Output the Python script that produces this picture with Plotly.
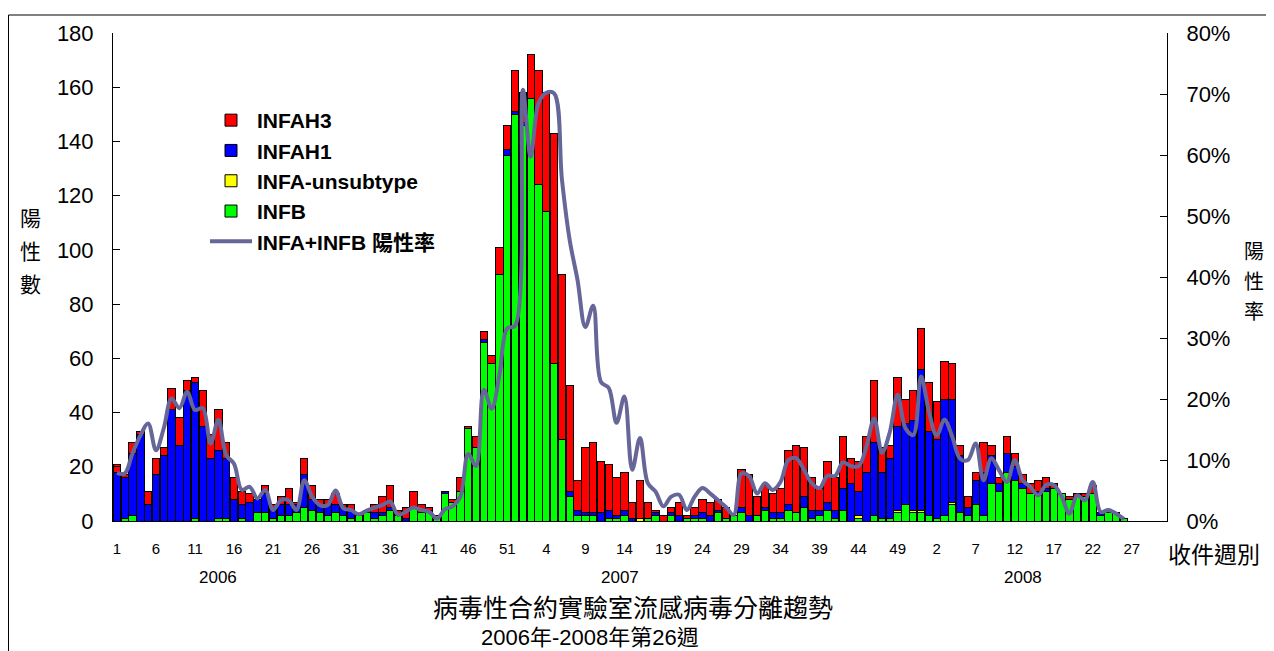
import plotly.graph_objects as go

# ---------------- data ----------------
# axis categories: 2006 wk1-52, 2007 wk1-52, 2008 wk1-31 (data through 2008 wk26)
axis_weeks = list(range(1, 53)) + list(range(1, 53)) + list(range(1, 32))
year_labels = ["2006", "2007", "2008"]
year_label_pos = [13, 64.5, 116]

infah3 = [3, 1, 4, 1, 5, 6, 3, 8, 10, 4, 2, 13, 9, 15, 6, 8, 5, 3, 0, 3,
          2, 3, 6, 1, 6, 5, 2, 2, 4, 1, 2, 0, 1, 3, 6, 8, 2, 4, 6, 3,
          1, 0, 0, 1, 5, 1, 4, 3, 3, 10, 9, 15,
          11, 16, 42, 44, 85, 61, 39, 11, 24, 26, 19, 17, 14, 14, 6, 14, 6, 1, 2, 2,
          5, 1, 3, 5, 5, 4, 4, 0, 14, 15, 7, 8, 7, 9, 20, 25, 18, 12, 8, 15,
          12, 19, 9, 11, 13, 23, 9, 5, 18, 9, 11, 15,
          18, 14, 14, 13, 4, 4, 3, 11, 4, 2, 6, 5, 3, 4, 4, 4, 2, 0, 1, 1,
          1, 3, 0, 0, 0, 0]
infah1 = [18, 15, 23, 32, 6, 17, 24, 41, 28, 48, 50, 35, 23, 25, 22, 8, 5, 7, 5, 7,
          3, 4, 4, 3, 12, 4, 3, 4, 3, 3, 3, 0, 0, 2, 1, 1, 0, 1, 0, 0,
          0, 0, 1, 0, 0, 0, 0, 1, 0, 0, 2, 1,
          1, 0, 0, 0, 0, 0, 2, 2, 1, 1, 3, 3, 1, 2, 1, 0, 0, 1, 0, 1,
          2, 0, 1, 2, 2, 1, 0, 0, 2, 2, 0, 1, 2, 2, 2, 0, 4, 3, 2, 3,
          3, 8, 14, 9, 18, 27, 17, 22, 31, 30, 33, 52,
          31, 29, 43, 38, 21, 3, 9, 16, 10, 3, 7, 5, 2, 0, 1, 1, 0, 0, 0, 0,
          0, 0, 1, 0, 0, 0]
infa_unsubtype = [0] * 52 + \
    [0, 0, 0, 0, 0, 0, 0, 0, 0, 0, 0, 0, 0, 0, 0, 1, 0, 0, 0, 0,
     0, 0, 0, 0, 0, 0, 0, 0, 0, 0, 0, 0, 0, 0, 0, 0, 0, 0, 0, 0,
     0, 0, 0, 1, 0, 0, 0, 0, 1, 0, 1, 1] + \
    [0, 0, 0, 1, 0, 0, 0, 0, 0, 0, 0, 0, 0, 0, 0, 0, 0, 0, 0, 0,
     0, 0, 0, 0, 0, 0]
infb = [0, 1, 2, 0, 0, 0, 0, 0, 0, 0, 1, 0, 0, 1, 1, 0, 1, 0, 3, 3,
        1, 2, 2, 3, 5, 4, 3, 2, 3, 2, 1, 2, 3, 1, 2, 4, 2, 0, 5, 3,
        4, 2, 10, 7, 11, 34, 27, 66, 58, 91, 135, 150,
        146, 156, 124, 114, 58, 30, 9, 2, 2, 2, 0, 1, 1, 2, 0, 0, 1, 2, 0, 2,
        0, 1, 1, 1, 0, 3, 1, 2, 3, 0, 2, 4, 1, 1, 4, 3, 5, 1, 2, 4,
        1, 4, 0, 1, 0, 2, 1, 1, 3, 6, 3, 3,
        2, 1, 2, 6, 3, 2, 6, 2, 14, 11, 18, 15, 12, 10, 10, 11, 12, 10, 8, 9,
        9, 10, 2, 3, 3, 1]
positive_rate = [7.9, 7.8, 11.1, 14.0, 16.0, 11.6, 15.2, 20.1, 18.5, 21.2,
                 18.2, 18.5, 12.7, 16.6, 10.8, 9.4, 5.1, 5.6, 3.7, 5.1,
                 1.8, 3.4, 3.4, 1.8, 6.7, 4.0, 2.6, 2.6, 5.0, 2.1,
                 1.8, 1.1, 1.7, 2.2, 2.6, 3.2, 1.0, 1.5, 2.2, 1.8,
                 1.5, 0.4, 1.9, 2.4, 4.0, 11.0, 9.0, 21.5, 18.4, 24.0,
                 31.6, 32.0,
                 70.7, 59.7, 68.5, 70.2, 70.1, 56.0, 46.0, 39.5, 31.8, 35.3,
                 22.8, 21.8, 16.1, 20.4, 8.4, 13.6, 6.2, 4.8, 2.4, 4.0,
                 4.3, 1.8, 4.0, 5.4, 4.5, 3.4, 2.3, 1.0, 7.8, 7.3,
                 4.5, 6.2, 5.1, 6.4, 10.0, 10.3, 8.4, 6.2, 5.4, 7.4,
                 7.4, 9.6, 9.0, 9.0, 12.2, 16.8, 11.2, 14.6, 20.7, 15.2,
                 14.1, 23.7,
                 18.0, 14.0, 16.6, 13.8, 10.2, 10.0, 12.7, 6.7, 10.3, 8.3,
                 6.4, 10.0, 6.7, 5.6, 4.2, 5.9, 5.9, 4.0, 1.2, 4.2,
                 3.4, 6.4, 1.5, 1.8, 1.2, 0.3]

n = len(infb)
xs = list(range(n))
tick_idx = list(range(0, len(axis_weeks), 5))
tick_txt = [str(axis_weeks[i]) for i in tick_idx]

FONT = "Liberation Sans, Arial, sans-serif"
CJK = "Noto Sans CJK TC, sans-serif"
LINE_COL = "#666699"

fig = go.Figure()
bar_style = dict(marker_line_color="black", marker_line_width=1)
fig.add_trace(go.Bar(x=xs, y=infb, name="INFB", marker_color="#00FF00",
                     legendrank=4, legendgroup="d", **bar_style))
fig.add_trace(go.Bar(x=xs, y=infa_unsubtype, name="INFA-unsubtype", marker_color="#FFFF00",
                     legendrank=3, legendgroup="c", **bar_style))
fig.add_trace(go.Bar(x=xs, y=infah1, name="INFAH1", marker_color="#0000FF",
                     legendrank=2, legendgroup="b", **bar_style))
fig.add_trace(go.Bar(x=xs, y=infah3, name="INFAH3", marker_color="#FF0000",
                     legendrank=1, legendgroup="a", **bar_style))
fig.add_trace(go.Scatter(x=xs, y=positive_rate, name="INFA+INFB 陽性率", yaxis="y2",
                         mode="lines", line=dict(color=LINE_COL, width=4, shape="spline", smoothing=1.0),
                         legendrank=5, legendgroup="e"))

# page is offset by the 8px body margin
OFF = 8
W, H = 1274 - OFF, 651 - OFF
L = 113 - OFF
T = 33 - OFF
R = W - (1167 - OFF)
B = H - (521 - OFF)
pw, ph = W - L - R, H - T - B

def px_x(p):
    return (p - OFF - L) / pw

def px_y(p):
    return (H - B - (p - OFF)) / ph

def note(x, y, text, font, xref="paper"):
    return dict(x=x, y=y, xref=xref, yref="paper", text=text, showarrow=False,
                xanchor="center", yanchor="middle", font=font)

annotations = []
for lab, pos in zip(year_labels, year_label_pos):
    annotations.append(note(pos, px_y(577), lab, dict(family=FONT, size=17, color="black"), xref="x"))
for ch, yy in zip("陽性數", [217, 250, 283]):
    annotations.append(note(px_x(30), px_y(yy), ch, dict(family=CJK, size=21, color="black")))
for ch, yy in zip("陽性率", [250, 280, 310]):
    annotations.append(note(px_x(1254), px_y(yy), ch, dict(family=CJK, size=20, color="black")))
annotations.append(note(px_x(1214), px_y(553), "收件週別", dict(family=CJK, size=23, color="black")))
annotations.append(note(px_x(633), px_y(606), "病毒性合約實驗室流感病毒分離趨勢",
                        dict(family=CJK, size=25, color="black")))
annotations.append(note(px_x(590), px_y(637), "2006年-2008年第26週",
                        dict(family=FONT + ", Noto Sans CJK TC", size=22, color="black")))

fig.update_layout(
    width=W, height=H,
    margin=dict(l=L, r=R, t=T, b=B, pad=0),
    paper_bgcolor="white", plot_bgcolor="white",
    barmode="stack", bargap=0.06,
    font=dict(family=FONT, color="black"),
    xaxis=dict(range=[-0.5, len(axis_weeks) - 0.5], tickmode="array", tickvals=tick_idx, ticktext=tick_txt,
               showline=True, linecolor="black", linewidth=1, ticks="", showgrid=False, zeroline=False,
               tickfont=dict(family=FONT, size=15), ticklabelstandoff=14),
    yaxis=dict(range=[0, 180], dtick=20, showline=True, linecolor="black", linewidth=1,
               ticks="inside", ticklen=7, tickcolor="black", showgrid=False, zeroline=False,
               tickfont=dict(family=FONT, size=22), ticklabelstandoff=14),
    yaxis2=dict(range=[0, 80], dtick=10, ticksuffix="%", overlaying="y", side="right",
                showline=True, linecolor="black", linewidth=1, ticks="inside", ticklen=7,
                tickcolor="black", showgrid=False, zeroline=False,
                tickfont=dict(family=FONT, size=22), ticklabelstandoff=14),
    legend=dict(x=px_x(205), y=px_y(100), xanchor="left", yanchor="top",
                bgcolor="rgba(0,0,0,0)", font=dict(family=FONT + ", Noto Sans CJK TC", size=21, weight="bold"),
                tracegroupgap=0, itemwidth=42, traceorder="grouped"),
    annotations=annotations,
    shapes=[dict(type="rect", xref="paper", yref="paper", x0=px_x(8.5), x1=px_x(1300),
                 y0=px_y(700), y1=px_y(15), line=dict(color="black", width=1), layer="below")],
)

fig.write_html("out.html")
